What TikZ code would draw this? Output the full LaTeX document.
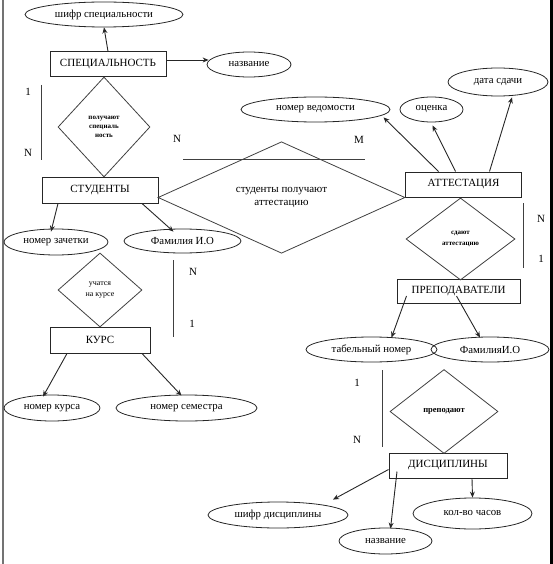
\documentclass[tikz,border=0pt]{standalone}
\usepackage{fontspec}
\setmainfont{Liberation Serif}
\usetikzlibrary{shapes.geometric,arrows.meta}
\begin{document}
\begin{tikzpicture}[x=1pt,y=-1pt,
 ent/.style={draw=black!85,line width=1pt,rectangle,inner sep=0pt,font=\fontsize{11}{12}\selectfont},
 attr/.style={draw=black!85,line width=0.8pt,ellipse,inner sep=0pt,font=\fontsize{10.8}{12}\selectfont},
 rel/.style={draw=black!75,line width=0.8pt,diamond,inner sep=0pt,align=center,font=\fontsize{7}{9}\selectfont\bfseries},
 arr/.style={draw=black!85,line width=0.9pt,-{Stealth[length=6pt,width=5pt]}},
 lnk/.style={draw=black!75,line width=0.9pt},
 card/.style={font=\fontsize{11}{12}\selectfont,inner sep=0pt}]
\useasboundingbox (0,0) rectangle (553,564);
% borders
\draw[draw=black!55,line width=2pt] (3,0) -- (3,564);
\draw[draw=black,line width=3pt] (551,0) -- (551,564);

% entities
\node[ent,minimum width=116pt,minimum height=25pt] (spec) at (108,64.5) {СПЕЦИАЛЬНОСТЬ};
\node[ent,minimum width=116pt,minimum height=26pt] (stud) at (100,190) {СТУДЕНТЫ};
\node[ent,minimum width=100pt,minimum height=26pt] (kurs) at (100,340) {КУРС};
\node[ent,minimum width=116pt,minimum height=25pt] (att) at (463.5,184.5) {АТТЕСТАЦИЯ};
\node[ent,minimum width=123pt,minimum height=24pt] (prep) at (458.5,291.5) {ПРЕПОДАВАТЕЛИ};
\node[ent,minimum width=118pt,minimum height=25pt] (disc) at (448,465.5) {ДИСЦИПЛИНЫ};

% attributes
\node[attr,minimum width=158pt,minimum height=25pt] (shifrs) at (104,14.5) {шифр специальности};
\node[attr,minimum width=84pt,minimum height=25pt] (nazv1) at (249,64.5) {название};
\node[attr,minimum width=149pt,minimum height=25pt] (vedom) at (315.5,109.5) {номер ведомости};
\node[attr,minimum width=63pt,minimum height=25pt] (ocen) at (431.5,109.5) {оценка};
\node[attr,minimum width=100pt,minimum height=28pt] (data) at (498,82) {дата сдачи};
\node[attr,minimum width=104pt,minimum height=26pt] (zach) at (56,242) {номер зачетки};
\node[attr,minimum width=117pt,minimum height=24pt] (fio1) at (182.5,241) {Фамилия И.О};
\node[attr,minimum width=96pt,minimum height=26pt] (nkurs) at (52,408) {номер курса};
\node[attr,minimum width=141pt,minimum height=26pt] (nsem) at (186.5,408) {номер семестра};
\node[attr,minimum width=131pt,minimum height=25pt] (tab) at (371.5,349.5) {табельный номер};
\node[attr,minimum width=118pt,minimum height=25pt] (fio2) at (490,349.5) {ФамилияИ.О};
\node[attr,minimum width=140pt,minimum height=26pt] (shifrd) at (278,515) {шифр дисциплины};
\node[attr,minimum width=93pt,minimum height=26pt] (nazv2) at (385.5,541) {название};
\node[attr,minimum width=119pt,minimum height=31pt] (chas) at (472.5,513.5) {кол-во часов};

% relationships
\node[rel,minimum width=92pt,minimum height=100pt] (r1) at (104,127) {получают\\специаль\\ность};
\node[rel,minimum width=247pt,minimum height=59pt,font=\fontsize{11}{13}\selectfont] (r2) at (281.5,197.5) {студенты получают\\аттестацию};
\node[rel,minimum width=84pt,minimum height=74pt,font=\fontsize{8}{11}\selectfont] (r3) at (100,290) {учатся\\на курсе};
\node[rel,minimum width=109pt,minimum height=82pt,font=\fontsize{7}{11}\selectfont\bfseries] (r4) at (460.5,239) {сдают\\аттестацию};
\node[rel,minimum width=108pt,minimum height=84pt,font=\fontsize{8.5}{10}\selectfont\bfseries] (r5) at (444,411.5) {преподают};

% arrows
\draw[arr] (spec.north) -- (shifrs.south);
\draw[arr] ([yshift=4.5pt]spec.east) -- ([xshift=2pt,yshift=4.5pt]nazv1.west);
\draw[arr] ([xshift=-25pt]att.north) -- ([xshift=68pt,yshift=5pt]vedom.south);
\draw[arr] ([xshift=-8pt]att.north) -- ([xshift=1pt,yshift=-3pt]ocen.south);
\draw[arr] ([xshift=26pt]att.north) -- ([xshift=14pt,yshift=-1pt]data.south);
\draw[arr] ([xshift=-42pt]stud.south) -- ([xshift=-5pt,yshift=-3pt]zach.north);
\draw[arr] ([xshift=42pt]stud.south) -- ([xshift=-9pt,yshift=-3pt]fio1.north);
\draw[arr] ([xshift=-33pt]kurs.south) -- ([xshift=-9pt,yshift=-2pt]nkurs.north);
\draw[arr] ([xshift=42pt]kurs.south) -- ([xshift=-5pt,yshift=-1pt]nsem.north);
\draw[arr] ([xshift=-52pt,yshift=8pt]prep.south) -- ([xshift=20pt,yshift=-1pt]tab.north);
\draw[arr] ([xshift=-2pt,yshift=8pt]prep.south) -- ([xshift=-10pt,yshift=-1pt]fio2.north);
\draw[arr] ([yshift=-4pt]disc.west) -- ([xshift=55pt,yshift=2pt]shifrd.north);
\draw[arr] ([xshift=-51pt,yshift=7pt]disc.south) -- ([xshift=5pt,yshift=-1pt]nazv2.north);
\draw[arr] ([xshift=24pt]disc.south) -- (chas.north);

% cardinality lines
\draw[lnk] (41,85) -- (41,160);
\draw[lnk] (183,159) -- (365,159);
\draw[lnk] (173,260) -- (173,337);
\draw[lnk] (523,203) -- (523,268);
\draw[lnk] (382,370) -- (382,447);

% cardinality labels
\node[card] (c1) at (28,92) {1};
\node[card] (c2) at (28,153) {N};
\node[card] (c3) at (177,139) {N};
\node[card] (c4) at (359,140) {M};
\node[card] (c5) at (193,272) {N};
\node[card] (c6) at (192,324) {1};
\node[card] (c7) at (541,219) {N};
\node[card] (c8) at (541,259) {1};
\node[card] (c9) at (357,383) {1};
\node[card] (c10) at (357,440) {N};
\end{tikzpicture}
\end{document}
